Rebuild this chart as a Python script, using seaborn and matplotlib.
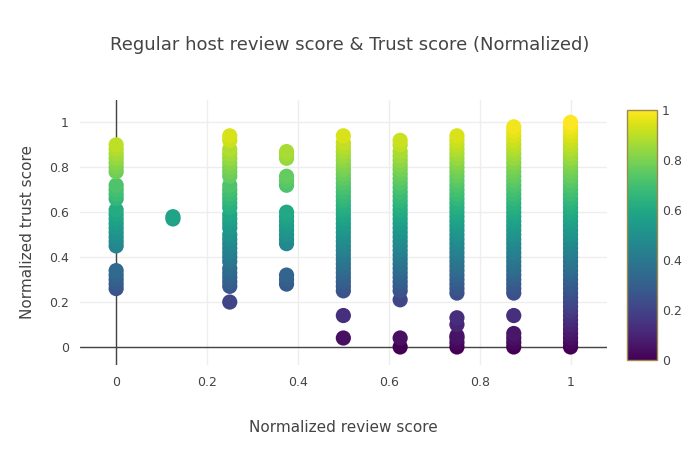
import seaborn as sns
import matplotlib.pyplot as plt
import pandas as pd

# trust score values
col_0 = [0.26, 0.28, 0.30, 0.32, 0.34, 0.45, 0.47, 0.49, 0.51, 0.53, 0.55, 0.57, 0.59, 0.61,
         0.66, 0.68, 0.70, 0.72, 0.78, 0.80, 0.82, 0.84, 0.86, 0.88, 0.90]
col_0125 = [0.57, 0.58]
col_025 = [0.20, 0.27, 0.29, 0.31, 0.33, 0.35, 0.38, 0.40, 0.42, 0.44, 0.46, 0.48, 0.50,
           0.53, 0.55, 0.57, 0.59, 0.62, 0.64, 0.66, 0.68, 0.70, 0.72, 0.76, 0.78, 0.80,
           0.82, 0.84, 0.86, 0.88, 0.92, 0.94]
col_0375 = [0.28, 0.30, 0.32, 0.46, 0.48, 0.50, 0.52, 0.54, 0.56, 0.58, 0.60, 0.72, 0.74,
            0.76, 0.84, 0.86, 0.87]
col_05 = [0.04, 0.14, 0.25, 0.27, 0.29, 0.31, 0.33, 0.35, 0.37, 0.39, 0.41, 0.43, 0.45, 0.47,
          0.49, 0.51, 0.53, 0.55, 0.57, 0.59, 0.61, 0.63, 0.65, 0.67, 0.69, 0.71, 0.73, 0.75,
          0.77, 0.79, 0.81, 0.83, 0.85, 0.87, 0.89, 0.91, 0.94]
col_0625 = [0.00, 0.04, 0.21, 0.25, 0.27, 0.29, 0.31, 0.33, 0.35, 0.37, 0.39, 0.41, 0.43,
            0.45, 0.47, 0.49, 0.51, 0.53, 0.55, 0.57, 0.59, 0.61, 0.63, 0.65, 0.67, 0.69,
            0.71, 0.73, 0.75, 0.77, 0.79, 0.81, 0.83, 0.85, 0.87, 0.90, 0.92]
col_075 = [0.00, 0.02, 0.04, 0.05, 0.10, 0.13, 0.24, 0.26, 0.28, 0.30, 0.32, 0.34, 0.36,
           0.38, 0.40, 0.42, 0.44, 0.46, 0.48, 0.50, 0.52, 0.54, 0.56, 0.58, 0.60, 0.62,
           0.64, 0.66, 0.68, 0.70, 0.72, 0.74, 0.76, 0.78, 0.80, 0.82, 0.84, 0.86, 0.88,
           0.90, 0.92, 0.94]
col_0875 = [0.00, 0.02, 0.04, 0.06, 0.14, 0.24, 0.26, 0.28, 0.30, 0.32, 0.34, 0.36, 0.38,
            0.40, 0.42, 0.44, 0.46, 0.48, 0.50, 0.52, 0.54, 0.56, 0.58, 0.60, 0.62, 0.64,
            0.66, 0.68, 0.70, 0.72, 0.74, 0.76, 0.78, 0.80, 0.82, 0.84, 0.86, 0.88, 0.90,
            0.92, 0.94, 0.96, 0.98]
col_1 = [0.00, 0.02, 0.04, 0.06, 0.08, 0.10, 0.12, 0.14, 0.16, 0.18, 0.20, 0.22, 0.24, 0.26,
         0.28, 0.30, 0.32, 0.34, 0.36, 0.38, 0.40, 0.42, 0.44, 0.46, 0.48, 0.50, 0.52, 0.54,
         0.56, 0.58, 0.60, 0.62, 0.64, 0.66, 0.68, 0.70, 0.72, 0.74, 0.76, 0.78, 0.80, 0.82,
         0.84, 0.86, 0.88, 0.90, 0.92, 0.94, 0.96, 0.98, 1.00]

review_scores = [0, 0.125, 0.25, 0.375, 0.5, 0.625, 0.75, 0.875, 1]
columns = [col_0, col_0125, col_025, col_0375, col_05, col_0625, col_075, col_0875, col_1]

rows = []
for x, ys in zip(review_scores, columns):
    for y in ys:
        rows.append({"review": x, "trust": y})
df = pd.DataFrame(rows)

sns.set_style("white")
fig = plt.figure(figsize=(7, 4.5), dpi=100)
ax = fig.add_axes([0.114, 0.189, 0.753, 0.589])
txt = "#444444"

ax.grid(True, color="#eeeeee", lw=1)
ax.set_axisbelow(True)
ax.axvline(0, color="#444444", lw=1, zorder=1)
ax.axhline(0, color="#444444", lw=1, zorder=1)

sns.scatterplot(data=df, x="review", y="trust", hue="trust", palette="viridis",
                hue_norm=(0, 1), s=120, linewidth=0, legend=False, ax=ax, zorder=3)

ax.set_xlim(-0.08, 1.08)
ax.set_ylim(-0.08, 1.1)
ax.set_xticks([0, 0.2, 0.4, 0.6, 0.8, 1])
ax.set_xticklabels(["0", "0.2", "0.4", "0.6", "0.8", "1"])
ax.set_yticks([0, 0.2, 0.4, 0.6, 0.8, 1])
ax.set_yticklabels(["0", "0.2", "0.4", "0.6", "0.8", "1"])
ax.tick_params(length=0, labelsize=9, colors=txt, pad=8)
for sp in ax.spines.values():
    sp.set_visible(False)
ax.set_xlabel("Normalized review score", fontsize=11, color=txt, labelpad=22)
ax.set_ylabel("Normalized trust score", fontsize=11, color=txt, labelpad=10)
fig.suptitle("Regular host review score & Trust score (Normalized)", fontsize=13,
             color=txt, y=0.92)

cax = fig.add_axes([0.896, 0.2, 0.043, 0.556])
sm = plt.cm.ScalarMappable(cmap="viridis", norm=plt.Normalize(0, 1))
cb = fig.colorbar(sm, cax=cax, ticks=[0, 0.2, 0.4, 0.6, 0.8, 1])
cb.ax.set_yticklabels(["0", "0.2", "0.4", "0.6", "0.8", "1"])
cb.ax.tick_params(length=0, labelsize=9, colors=txt)
cb.outline.set_edgecolor("#9c8a4a")
cb.outline.set_linewidth(1)

fig.savefig("out.png", dpi=100)
